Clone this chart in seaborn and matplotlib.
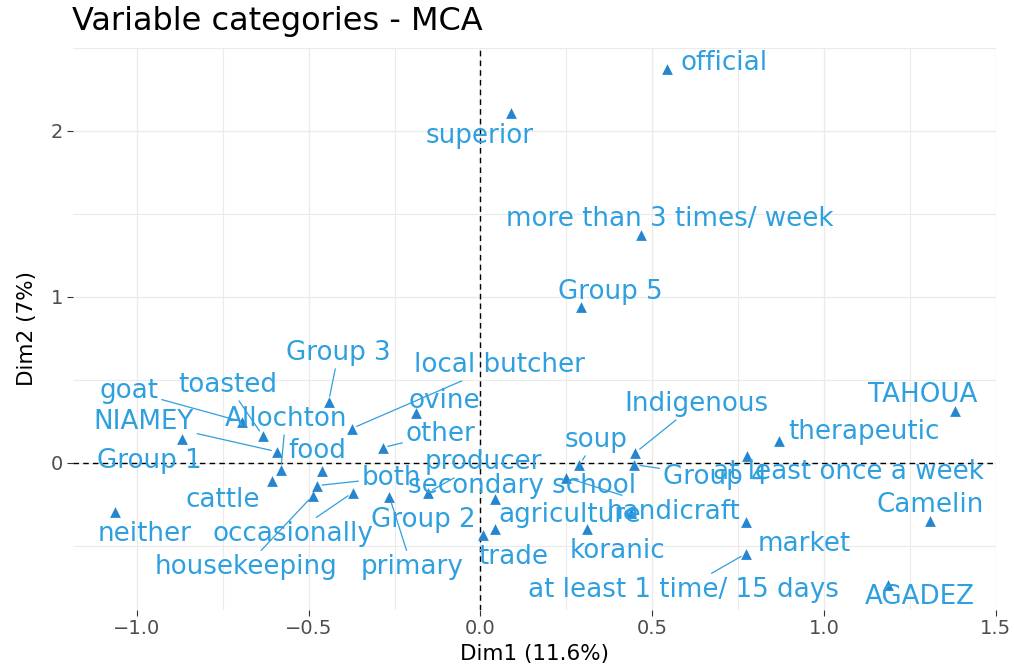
import matplotlib
matplotlib.use("Agg")
import matplotlib.pyplot as plt
import pandas as pd
import seaborn as sns

# MCA variable categories, coordinates on Dim1 / Dim2
labels = ["official", "superior", "more than 3 times/ week", "Group 5", "Group 3",
          "local butcher", "ovine", "other", "Group 1", "goat", "toasted", "NIAMEY",
          "Allochton", "cattle", "food", "both", "housekeeping", "occasionally",
          "primary", "producer", "Group 2", "secondary school", "agriculture", "trade",
          "koranic", "handicraft", "soup", "Indigenous", "Group 4",
          "at least once a week", "therapeutic", "market", "at least 1 time/ 15 days",
          "TAHOUA", "Camelin", "AGADEZ", "neither"]
dim1 = [0.544, 0.090, 0.468, 0.294, -0.442,
        -0.375, -0.189, -0.285, -0.869, -0.695, -0.634, -0.593,
        -0.581, -0.608, -0.462, -0.477, -0.488, -0.372,
        -0.265, -0.154, 0.041, 0.041, 0.439, 0.006,
        0.311, 0.250, 0.288, 0.451, 0.448,
        0.776, 0.869, 0.773, 0.773,
        1.381, 1.308, 1.186, -1.064]
dim2 = [2.373, 2.108, 1.373, 0.940, 0.367,
        0.205, 0.301, 0.090, 0.145, 0.247, 0.163, 0.066,
        -0.042, -0.108, -0.048, -0.139, -0.199, -0.181,
        -0.205, -0.181, -0.398, -0.217, -0.301, -0.434,
        -0.398, -0.090, -0.012, 0.060, -0.012,
        0.042, 0.133, -0.355, -0.548,
        0.313, -0.349, -0.735, -0.295]

# repelled label positions (as in the original) and which ones got a segment
label_x = [0.709, -0.003, 0.552, 0.378, -0.413,
           0.055, -0.105, -0.116, -0.965, -1.023, -0.735, -0.980,
           -0.567, -0.750, -0.474, -0.259, -0.683, -0.547,
           -0.200, 0.009, -0.166, 0.122, 0.259, 0.096,
           0.398, 0.561, 0.337, 0.628, 0.683,
           1.070, 1.116, 0.942, 0.590,
           1.288, 1.308, 1.279, -0.977]
label_y = [2.410, 1.970, 1.470, 1.030, 0.663,
           0.590, 0.373, 0.175, 0.012, 0.434, 0.470, 0.247,
           0.265, -0.223, 0.072, -0.090, -0.627, -0.428,
           -0.627, 0.006, -0.343, -0.139, -0.313, -0.566,
           -0.530, -0.295, 0.139, 0.355, -0.084,
           -0.054, 0.187, -0.488, -0.765,
           0.410, -0.253, -0.807, -0.428]
with_segment = ["goat", "toasted", "NIAMEY", "Allochton", "Group 3", "local butcher",
                "other", "soup", "Indigenous", "Group 4", "both", "occasionally",
                "housekeeping", "primary", "producer", "handicraft",
                "at least 1 time/ 15 days"]

df = pd.DataFrame({"label": labels, "Dim1": dim1, "Dim2": dim2})

blue = "#2E9FDF"
sns.set_theme(style="white")
plt.rcParams["font.family"] = ["DejaVu Sans"]

fig = plt.figure(figsize=(10.14, 6.70), dpi=100)
ax = fig.add_axes([0.072, 0.09, 0.91, 0.839])

# grid like theme_minimal
ax.set_xticks([-1.0, -0.5, 0.0, 0.5, 1.0, 1.5])
ax.set_xticks([-0.75, -0.25, 0.25, 0.75, 1.25], minor=True)
ax.set_yticks([0, 1, 2])
ax.set_yticks([-0.5, 0.5, 1.5, 2.5], minor=True)
ax.grid(which="major", color="#EBEBEB", lw=1.0)
ax.grid(which="minor", color="#EBEBEB", lw=0.8)
ax.set_axisbelow(True)
for s in ax.spines.values():
    s.set_visible(False)

ax.axhline(0, color="black", ls=(0, (4, 3)), lw=1.0, zorder=1)
ax.axvline(0, color="black", ls=(0, (4, 3)), lw=1.0, zorder=1)

sns.scatterplot(data=df, x="Dim1", y="Dim2", marker="^", s=60, color="#2586CF",
                linewidth=0, ax=ax, zorder=3)

for lab, lx, ly, px, py in zip(labels, label_x, label_y, dim1, dim2):
    if lab in with_segment:
        ax.annotate(lab, xy=(px, py), xytext=(lx, ly), textcoords="data",
                    ha="center", va="center", fontsize=18.8, color=blue, zorder=4,
                    arrowprops=dict(arrowstyle="-", color=blue, lw=0.9,
                                    shrinkA=0, shrinkB=4))
    else:
        ax.text(lx, ly, lab, ha="center", va="center", fontsize=18.8, color=blue, zorder=4)

ax.set_xlim(-1.186, 1.50)
ax.set_ylim(-0.886, 2.5)

ax.tick_params(which="major", length=4, width=0.8, color="#333333",
               labelsize=14, labelcolor="#4D4D4D", pad=3, bottom=True, left=True)
ax.tick_params(which="minor", length=0)

ax.set_xlabel("Dim1 (11.6%)", fontsize=15.5, color="black", labelpad=4)
ax.set_ylabel("Dim2 (7%)", fontsize=15.5, color="black", labelpad=10)
fig.text(0.071, 0.968, "Variable categories - MCA", fontsize=23, va="center",
         ha="left", color="black")

fig.savefig("out.png", dpi=100)
